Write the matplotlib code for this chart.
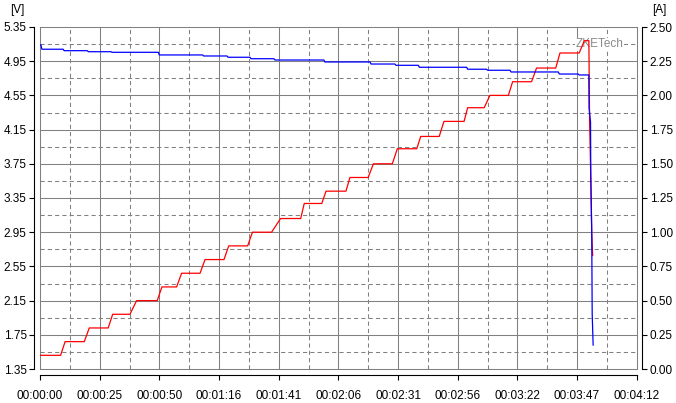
import matplotlib
matplotlib.use("Agg")
import matplotlib.pyplot as plt
import numpy as np

plt.rcParams['font.family'] = ['Liberation Sans', 'DejaVu Sans']

# ---- data ----
xtick_seconds = [0, 25.2, 50.4, 75.6, 100.8, 126.0, 151.2, 176.4, 201.6, 226.8, 252.0]
xtick_labels = ["00:00:00", "00:00:25", "00:00:50", "00:01:16", "00:01:41", "00:02:06",
                "00:02:31", "00:02:56", "00:03:22", "00:03:47", "00:04:12"]
volt_ticks = [1.35, 1.75, 2.15, 2.55, 2.95, 3.35, 3.75, 4.15, 4.55, 4.95, 5.35]
amp_ticks = [0.00, 0.25, 0.50, 0.75, 1.00, 1.25, 1.50, 1.75, 2.00, 2.25, 2.50]

# voltage step changes (time s, voltage V)
volt_step_t = [0, 0.4, 9.8, 20.0, 30.0, 50.0, 68.7, 79.0, 88.7, 98.8, 119.9, 139.4,
               149.9, 159.8, 180.2, 188.6, 198.5, 218.9, 227.3]
volt_step_v = [5.14, 5.09, 5.073, 5.061, 5.054, 5.023, 5.011, 4.996, 4.979, 4.964,
               4.941, 4.917, 4.902, 4.879, 4.856, 4.844, 4.824, 4.800, 4.789]
# voltage collapse at end of test
volt_drop_t = [231.8, 231.9, 232.5, 232.6, 233.0, 233.2, 233.6]
volt_drop_v = [4.789, 4.40, 4.24, 3.62, 2.98, 2.00, 1.63]

# current steps (A) with ramp start/end times (s)
amp_levels = [0.10, 0.20, 0.30, 0.40, 0.50, 0.60, 0.70, 0.80, 0.90, 1.00, 1.10, 1.21,
              1.30, 1.40, 1.50, 1.61, 1.70, 1.81, 1.91, 2.00, 2.10, 2.20, 2.31, 2.40]
amp_rise_start = [8.7, 18.7, 28.8, 38.0, 49.5, 57.7, 67.6, 77.7, 87.7, 97.8, 110.1, 119.0,
                  129.2, 138.6, 148.8, 159.1, 168.6, 179.1, 187.6, 197.8, 207.6, 217.8, 227.7]
amp_rise_end = [10.6, 20.8, 30.7, 40.8, 51.5, 59.8, 69.7, 79.7, 89.7, 101.6, 111.6, 120.8,
                130.9, 140.8, 150.9, 160.8, 170.6, 180.6, 190.0, 199.6, 209.7, 219.6, 229.9]
amp_drop_t = [231.8, 232.1, 232.6, 233.0, 233.4]
amp_drop_v = [2.40, 1.82, 1.40, 1.00, 0.83]

# ---- build polylines ----
vt = [volt_step_t[0]]
vv = [volt_step_v[0]]
for i in range(1, len(volt_step_t)):
    vt += [volt_step_t[i], volt_step_t[i] + 0.4]
    vv += [volt_step_v[i - 1], volt_step_v[i]]
vt += volt_drop_t
vv += volt_drop_v

at = [0.0]
av = [amp_levels[0]]
for i in range(1, len(amp_levels)):
    at += [amp_rise_start[i - 1], amp_rise_end[i - 1]]
    av += [amp_levels[i - 1], amp_levels[i]]
at += amp_drop_t
av += amp_drop_v

# ---- figure ----
W, H = 676, 403
fig = plt.figure(figsize=(W / 100, H / 100), dpi=100)
fig.patch.set_facecolor('white')
ax = fig.add_axes([40 / W, (H - 369) / H, 596.7 / W, 342 / H])
ax2 = ax.twinx()
ax.set_zorder(2)
ax2.set_zorder(1)
ax.patch.set_visible(False)
ax2.patch.set_visible(True)
ax2.patch.set_facecolor('white')

ax.set_xlim(0, 252)
ax.set_ylim(1.35, 5.35)
ax2.set_ylim(0, 2.5)

grid_c = '#808080'
lw = 0.75
# major (solid) and minor (dashed) grid lines
for i, xt in enumerate(xtick_seconds):
    ax2.axvline(xt, color=grid_c, lw=lw, clip_on=False, zorder=0.5)
    if i < len(xtick_seconds) - 1:
        xm = (xt + xtick_seconds[i + 1]) / 2
        ax2.axvline(xm, color=grid_c, lw=lw, dashes=(4, 3), zorder=0.5)
for i, yt in enumerate(amp_ticks):
    ax2.axhline(yt, color=grid_c, lw=lw, clip_on=False, zorder=0.5)
    if i < len(amp_ticks) - 1:
        ym = (yt + amp_ticks[i + 1]) / 2
        ax2.axhline(ym, color=grid_c, lw=lw, dashes=(4, 3), zorder=0.5)

# watermark
ax2.text(0.9775, 0.9495, "ZKETech", transform=ax2.transAxes, ha='right', va='center',
         fontsize=8.5, color='#8a8a8a', zorder=1,
         bbox=dict(facecolor='white', edgecolor='none', pad=0.5))

# data lines
ax2.plot(at, av, color='#ff0000', lw=0.9, zorder=3)
ax.plot(vt, vv, color='#0000ff', lw=0.9, zorder=3)

# ticks and spines
ax.set_xticks(xtick_seconds)
ax.set_xticklabels(xtick_labels)
ax.set_yticks(volt_ticks)
ax.set_yticklabels([f"{v:.2f}" for v in volt_ticks])
ax2.set_yticks(amp_ticks)
ax2.set_yticklabels([f"{v:.2f}" for v in amp_ticks])

off = 4.4
for s in ['top', 'right']:
    ax.spines[s].set_visible(False)
ax.spines['left'].set_position(('outward', off))
ax.spines['bottom'].set_position(('outward', off))
for s in ['left', 'top', 'bottom']:
    ax2.spines[s].set_visible(False)
ax2.spines['right'].set_position(('outward', off - 0.7))
for a in (ax, ax2):
    for s in a.spines.values():
        s.set_linewidth(0.8)
        s.set_color('black')

ax.tick_params(axis='y', direction='out', length=3.6, width=0.8, pad=1.5, labelsize=8.5)
ax.tick_params(axis='x', direction='out', length=3.6, width=0.8, pad=7, labelsize=8.5)
ax2.tick_params(axis='y', direction='out', length=3.6, width=0.8, pad=2, labelsize=8.5)

fig.text(17 / W, 1 - 10 / H, "[V]", ha='center', va='center', fontsize=8.5)
fig.text(659 / W, 1 - 10 / H, "[A]", ha='center', va='center', fontsize=8.5)

fig.savefig("out.png", dpi=100)
